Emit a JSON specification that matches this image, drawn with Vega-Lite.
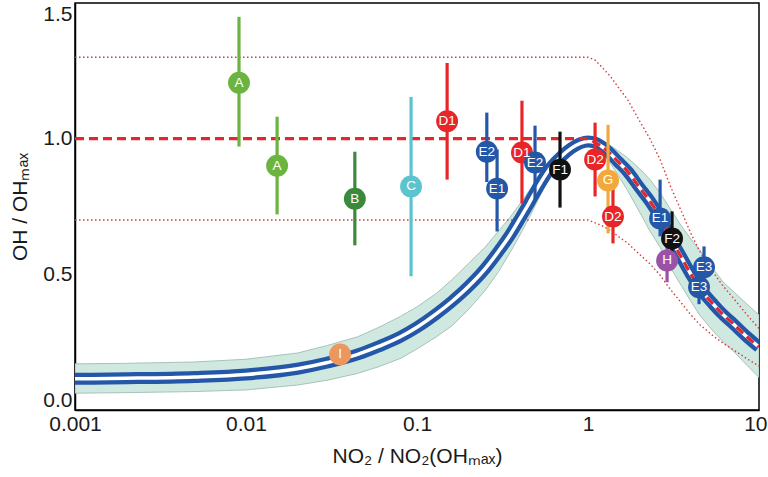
{
  "$schema": "https://vega.github.io/schema/vega-lite/v6.json",
  "width": 684,
  "height": 407,
  "autosize": {"type": "none"},
  "padding": {"left": 75, "top": 3, "right": 9, "bottom": 67},
  "background": "white",
  "config": {
    "view": {"stroke": "black", "strokeWidth": 1.5},
    "font": "Liberation Sans",
    "axis": {"grid": false, "domainColor": "black", "domainWidth": 1.5, "tickColor": "black", "labelColor": "#1a1a1a", "titleColor": "#1a1a1a", "labelFont": "Liberation Sans", "titleFont": "Liberation Sans", "labelFontSize": 21, "titleFontSize": 21, "titleFontWeight": "normal", "labelOverlap": false}
  },
  "datasets": {
    "curve": [
      {"x": 0.001, "c": 0.115, "lo": 0.062, "hi": 0.170, "up": 1.3, "dn": 0.7, "r": 1.0},
      {"x": 0.002, "c": 0.117, "lo": 0.064, "hi": 0.172, "up": 1.3, "dn": 0.7, "r": 1.0},
      {"x": 0.005, "c": 0.122, "lo": 0.068, "hi": 0.177, "up": 1.3, "dn": 0.7, "r": 1.0},
      {"x": 0.01, "c": 0.131, "lo": 0.074, "hi": 0.187, "up": 1.3, "dn": 0.7, "r": 1.0},
      {"x": 0.02, "c": 0.152, "lo": 0.092, "hi": 0.21, "up": 1.3, "dn": 0.7, "r": 1.0},
      {"x": 0.03, "c": 0.175, "lo": 0.11, "hi": 0.238, "up": 1.3, "dn": 0.7, "r": 1.0},
      {"x": 0.045, "c": 0.205, "lo": 0.135, "hi": 0.27, "up": 1.3, "dn": 0.7, "r": 1.0},
      {"x": 0.06, "c": 0.235, "lo": 0.16, "hi": 0.305, "up": 1.3, "dn": 0.7, "r": 1.0},
      {"x": 0.08, "c": 0.27, "lo": 0.19, "hi": 0.345, "up": 1.3, "dn": 0.7, "r": 1.0},
      {"x": 0.1, "c": 0.305, "lo": 0.225, "hi": 0.38, "up": 1.3, "dn": 0.7, "r": 1.0},
      {"x": 0.13, "c": 0.355, "lo": 0.27, "hi": 0.43, "up": 1.3, "dn": 0.7, "r": 1.0},
      {"x": 0.16, "c": 0.40, "lo": 0.31, "hi": 0.48, "up": 1.3, "dn": 0.7, "r": 1.0},
      {"x": 0.2, "c": 0.455, "lo": 0.37, "hi": 0.54, "up": 1.3, "dn": 0.7, "r": 1.0},
      {"x": 0.25, "c": 0.52, "lo": 0.44, "hi": 0.6, "up": 1.3, "dn": 0.7, "r": 1.0},
      {"x": 0.3, "c": 0.585, "lo": 0.51, "hi": 0.66, "up": 1.3, "dn": 0.7, "r": 1.0},
      {"x": 0.35, "c": 0.645, "lo": 0.58, "hi": 0.71, "up": 1.3, "dn": 0.7, "r": 1.0},
      {"x": 0.4, "c": 0.705, "lo": 0.645, "hi": 0.76, "up": 1.3, "dn": 0.7, "r": 1.0},
      {"x": 0.45, "c": 0.76, "lo": 0.705, "hi": 0.805, "up": 1.3, "dn": 0.7, "r": 1.0},
      {"x": 0.52, "c": 0.83, "lo": 0.785, "hi": 0.86, "up": 1.3, "dn": 0.7, "r": 1.0},
      {"x": 0.6, "c": 0.89, "lo": 0.86, "hi": 0.91, "up": 1.3, "dn": 0.7, "r": 1.0},
      {"x": 0.7, "c": 0.935, "lo": 0.915, "hi": 0.95, "up": 1.3, "dn": 0.7, "r": 1.0},
      {"x": 0.8, "c": 0.965, "lo": 0.95, "hi": 0.975, "up": 1.3, "dn": 0.7, "r": 1.0},
      {"x": 0.9, "c": 0.983, "lo": 0.97, "hi": 0.99, "up": 1.3, "dn": 0.7, "r": 1.0},
      {"x": 1.0, "c": 0.99, "lo": 0.978, "hi": 1.0, "up": 1.3, "dn": 0.7, "r": 1.0},
      {"x": 1.1, "c": 0.985, "lo": 0.97, "hi": 0.998, "up": 1.29, "dn": 0.69, "r": 0.985},
      {"x": 1.2, "c": 0.972, "lo": 0.95, "hi": 0.99, "up": 1.265, "dn": 0.68, "r": 0.972},
      {"x": 1.35, "c": 0.945, "lo": 0.91, "hi": 0.975, "up": 1.23, "dn": 0.662, "r": 0.945},
      {"x": 1.5, "c": 0.915, "lo": 0.865, "hi": 0.955, "up": 1.19, "dn": 0.64, "r": 0.915},
      {"x": 1.7, "c": 0.88, "lo": 0.81, "hi": 0.93, "up": 1.145, "dn": 0.616, "r": 0.88},
      {"x": 2.0, "c": 0.82, "lo": 0.73, "hi": 0.89, "up": 1.066, "dn": 0.574, "r": 0.82},
      {"x": 2.3, "c": 0.77, "lo": 0.66, "hi": 0.85, "up": 1.0, "dn": 0.539, "r": 0.77},
      {"x": 2.64, "c": 0.71, "lo": 0.6, "hi": 0.8, "up": 0.923, "dn": 0.497, "r": 0.71},
      {"x": 3.0, "c": 0.64, "lo": 0.53, "hi": 0.745, "up": 0.832, "dn": 0.448, "r": 0.64},
      {"x": 3.5, "c": 0.565, "lo": 0.46, "hi": 0.68, "up": 0.735, "dn": 0.396, "r": 0.565},
      {"x": 4.0, "c": 0.50, "lo": 0.40, "hi": 0.63, "up": 0.65, "dn": 0.35, "r": 0.50},
      {"x": 4.5, "c": 0.45, "lo": 0.35, "hi": 0.59, "up": 0.585, "dn": 0.315, "r": 0.45},
      {"x": 5.4, "c": 0.39, "lo": 0.29, "hi": 0.52, "up": 0.507, "dn": 0.273, "r": 0.39},
      {"x": 6.2, "c": 0.35, "lo": 0.25, "hi": 0.47, "up": 0.455, "dn": 0.245, "r": 0.35},
      {"x": 7.0, "c": 0.32, "lo": 0.22, "hi": 0.44, "up": 0.416, "dn": 0.224, "r": 0.32},
      {"x": 8.5, "c": 0.27, "lo": 0.165, "hi": 0.39, "up": 0.351, "dn": 0.189, "r": 0.27},
      {"x": 10, "c": 0.232, "lo": 0.12, "hi": 0.35, "up": 0.30, "dn": 0.162, "r": 0.232}
    ],
    "points": [
      {"id": "A", "g": "A", "x": 0.0091, "y": 1.206, "lo": 0.971, "hi": 1.449},
      {"id": "A", "g": "A", "x": 0.0152, "y": 0.90, "lo": 0.721, "hi": 1.081},
      {"id": "B", "g": "B", "x": 0.0433, "y": 0.779, "lo": 0.607, "hi": 0.952},
      {"id": "C", "g": "C", "x": 0.0923, "y": 0.824, "lo": 0.493, "hi": 1.154},
      {"id": "I", "g": "I", "x": 0.0355, "y": 0.205, "lo": 0.17, "hi": 0.225},
      {"id": "D1", "g": "D", "x": 0.15, "y": 1.064, "lo": 0.849, "hi": 1.279},
      {"id": "E2", "g": "E", "x": 0.256, "y": 0.952, "lo": 0.84, "hi": 1.096},
      {"id": "E1", "g": "E", "x": 0.294, "y": 0.816, "lo": 0.658, "hi": 0.96},
      {"id": "D1", "g": "D", "x": 0.411, "y": 0.949, "lo": 0.761, "hi": 1.14},
      {"id": "E2", "g": "E", "x": 0.49, "y": 0.912, "lo": 0.772, "hi": 1.048},
      {"id": "F1", "g": "F", "x": 0.686, "y": 0.886, "lo": 0.746, "hi": 1.026},
      {"id": "G", "g": "G", "x": 1.31, "y": 0.846, "lo": 0.651, "hi": 1.051},
      {"id": "D2", "g": "D", "x": 1.10, "y": 0.923, "lo": 0.787, "hi": 1.059},
      {"id": "D2", "g": "D", "x": 1.40, "y": 0.713, "lo": 0.614, "hi": 0.824},
      {"id": "E1", "g": "E", "x": 2.64, "y": 0.706, "lo": 0.64, "hi": 0.849},
      {"id": "H", "g": "H", "x": 2.90, "y": 0.551, "lo": 0.471, "hi": 0.61},
      {"id": "F2", "g": "F", "x": 3.10, "y": 0.632, "lo": 0.563, "hi": 0.732},
      {"id": "E3", "g": "E", "x": 4.77, "y": 0.526, "lo": 0.45, "hi": 0.603},
      {"id": "E3", "g": "E", "x": 4.46, "y": 0.452, "lo": 0.39, "hi": 0.51}
    ]
  },
  "layer": [
    {
      "data": {"name": "curve"},
      "mark": {"type": "area", "fill": "#cfe8e0", "stroke": "#a8c2ba", "strokeWidth": 1, "clip": true},
      "encoding": {
        "x": {"field": "x", "type": "quantitative",
          "scale": {"type": "log", "domain": [0.001, 10], "nice": false},
          "axis": {"orient": "bottom", "values": [0.001, 0.01, 0.1, 1, 10], "format": "~g",
            "ticks": false, "labelPadding": 3, "labelFlush": false,
            "labelAlign": {"condition": {"test": "datum.value == 10", "value": "right"}, "value": "center"},
            "labelOffset": {"condition": {"test": "datum.value == 10", "value": 8}, "value": 0},
            "title": "NO₂ / NO₂(OHₘₐₓ)", "titlePadding": 11}},
        "y": {"field": "lo", "type": "quantitative",
          "scale": {"domain": [0, 1.5], "nice": false, "zero": false},
          "axis": {"orient": "left", "values": [0, 0.5, 1, 1.5], "format": ".1f",
            "ticks": false, "labelPadding": 3, "labelFlush": true,
            "title": "OH / OHₘₐₓ", "titlePadding": 12}},
        "y2": {"field": "hi"}
      }
    },
    {
      "data": {"name": "curve"},
      "mark": {"type": "line", "color": "#d43c3c", "strokeWidth": 1.4, "strokeDash": [1.5, 2.5], "clip": true},
      "encoding": {
        "x": {"field": "x", "type": "quantitative", "axis": null},
        "y": {"field": "up", "type": "quantitative", "axis": null}
      }
    },
    {
      "data": {"name": "curve"},
      "mark": {"type": "line", "color": "#d43c3c", "strokeWidth": 1.4, "strokeDash": [1.5, 2.5], "clip": true},
      "encoding": {
        "x": {"field": "x", "type": "quantitative", "axis": null},
        "y": {"field": "dn", "type": "quantitative", "axis": null}
      }
    },
    {
      "data": {"name": "curve"},
      "mark": {"type": "line", "color": "#2457a7", "strokeWidth": 12, "interpolate": "monotone", "clip": true},
      "encoding": {
        "x": {"field": "x", "type": "quantitative", "axis": null},
        "y": {"field": "c", "type": "quantitative", "axis": null}
      }
    },
    {
      "data": {"name": "curve"},
      "mark": {"type": "line", "color": "white", "strokeWidth": 3.5, "interpolate": "monotone", "clip": true},
      "encoding": {
        "x": {"field": "x", "type": "quantitative", "axis": null},
        "y": {"field": "c", "type": "quantitative", "axis": null}
      }
    },
    {
      "data": {"name": "curve"},
      "mark": {"type": "line", "color": "#e3282c", "strokeWidth": 3.2, "strokeDash": [9, 5], "interpolate": "monotone", "clip": true},
      "encoding": {
        "x": {"field": "x", "type": "quantitative", "axis": null},
        "y": {"field": "r", "type": "quantitative", "axis": null}
      }
    },
    {
      "data": {"name": "points"},
      "mark": {"type": "rule", "strokeWidth": 3.2},
      "encoding": {
        "x": {"field": "x", "type": "quantitative", "axis": null},
        "y": {"field": "lo", "type": "quantitative", "axis": null},
        "y2": {"field": "hi"},
        "color": {"field": "g", "type": "nominal",
          "scale": {"domain": ["A","B","C","D","E","F","G","H","I"], "range": ["#6bb43f","#3b8a3c","#5cc4cf","#e8262a","#2457a7","#111111","#f2a93b","#9a52a6","#ec9760"]},
          "legend": null}
      }
    },
    {
      "data": {"name": "points"},
      "mark": {"type": "circle", "size": 480, "opacity": 1},
      "encoding": {
        "x": {"field": "x", "type": "quantitative", "axis": null},
        "y": {"field": "y", "type": "quantitative", "axis": null},
        "color": {"field": "g", "type": "nominal", "legend": null}
      }
    },
    {
      "data": {"name": "points"},
      "mark": {"type": "text", "color": "white", "fontSize": 13.5, "align": "center", "baseline": "middle", "font": "Liberation Sans"},
      "encoding": {
        "x": {"field": "x", "type": "quantitative", "axis": null},
        "y": {"field": "y", "type": "quantitative", "axis": null},
        "text": {"field": "id"}
      }
    }
  ],
  "resolve": {"axis": {"x": "independent", "y": "independent"}}
}
